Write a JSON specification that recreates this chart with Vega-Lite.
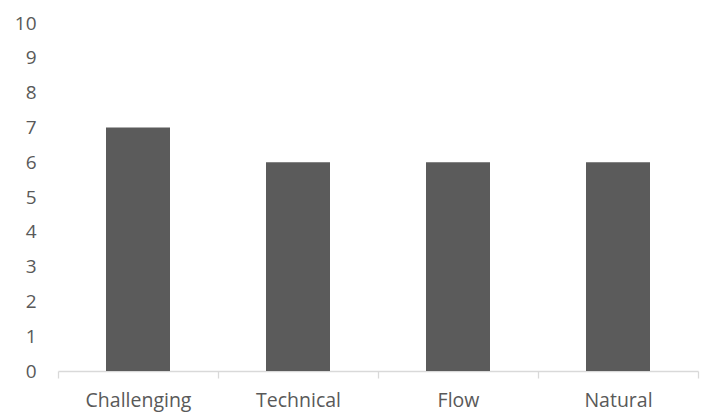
{
  "$schema": "https://vega.github.io/schema/vega-lite/v6.json",
  "autosize": {"type": "none"},
  "padding": {"left": 58, "top": 23, "right": 7, "bottom": 41},
  "width": 640,
  "height": 348,
  "background": "white",
  "config": {"view": {"stroke": null}, "font": "Open Sans"},
  "data": {"values": [
    {"category": "Challenging", "value": 7},
    {"category": "Technical", "value": 6},
    {"category": "Flow", "value": 6},
    {"category": "Natural", "value": 6}
  ]},
  "mark": {"type": "bar", "color": "#5b5b5b", "width": {"band": 0.4}},
  "encoding": {
    "x": {
      "field": "category", "type": "nominal", "sort": null,
      "scale": {"paddingInner": 0, "paddingOuter": 0},
      "axis": {
        "title": null, "labelAngle": 0, "labelFontSize": 19.5, "labelColor": "#595959",
        "labelFont": "Open Sans", "domainColor": "#d9d9d9", "domainWidth": 1.3,
        "tickColor": "#d9d9d9", "tickSize": 7, "tickWidth": 1.3, "tickBand": "extent",
        "labelPadding": 22, "labelBaseline": "middle", "grid": false
      }
    },
    "y": {
      "field": "value", "type": "quantitative",
      "scale": {"domain": [0, 10]},
      "axis": {
        "title": null, "values": [0,1,2,3,4,5,6,7,8,9,10], "labelFontSize": 19,
        "labelColor": "#595959", "labelFont": "Open Sans", "domain": false, "ticks": false,
        "grid": false, "labelPadding": 22
      }
    }
  }
}
